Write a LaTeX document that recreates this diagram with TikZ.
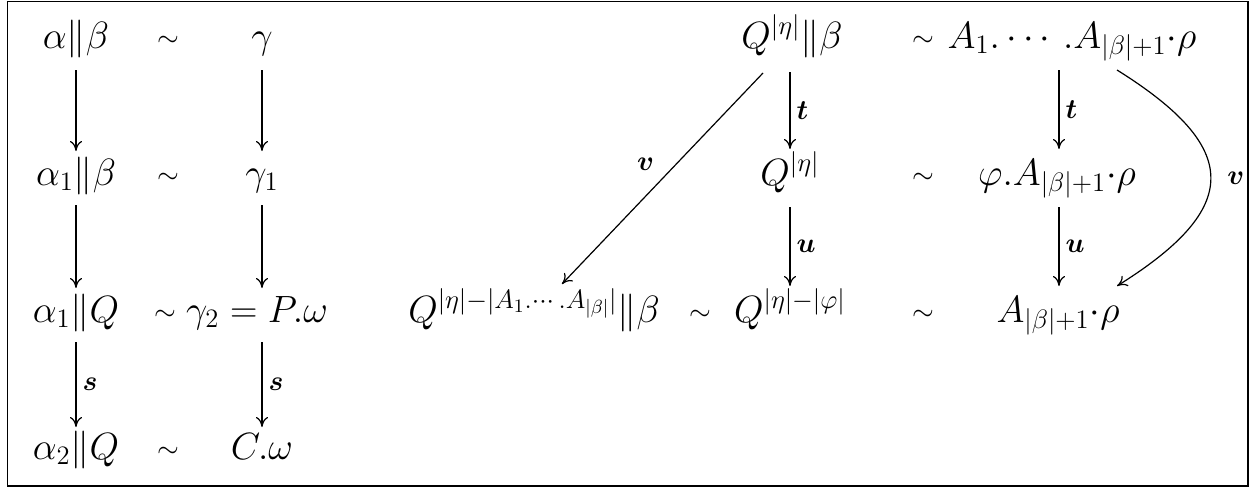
\documentclass[tikz,border=0pt]{standalone}
\usepackage{fix-cm}
\usepackage{amsmath}
\usetikzlibrary{arrows.meta}

\tikzset{
  cell/.style={anchor=base, inner sep=0pt, font=\fontsize{19}{23}\selectfont},
  simcell/.style={anchor=base, inner sep=0pt, font=\fontsize{14}{17}\selectfont},
  lbl/.style={right, inner sep=3pt, font=\fontsize{14}{17}\selectfont\boldmath},
  step arrow/.style={-{To[length=5pt, width=6pt]}, line width=0.6pt},
}

\begin{document}
\begin{tikzpicture}[x=0.5pt, y=-0.5pt]
        \useasboundingbox (0,0) rectangle (1254,488);
        % ramecek
        \draw[line width=0.75pt] (7.5,1.5) rectangle (1248,486);

        % levy sloupec
        \node[cell] (ab)  at (76,48)  {$\alpha\|\beta$};
        \node[cell] (a1b) at (76,185) {$\alpha_1\|\beta$};
        \node[cell] (a1q) at (76,322) {$\alpha_1\|Q$};
        \node[cell] (a2q) at (76,459) {$\alpha_2\|Q$};

        \node[simcell] (s1) at (168,46)  {$\sim$};
        \node[simcell] (s2) at (168,183) {$\sim$};
        \node[simcell] (s3) at (165,320) {$\sim$};
        \node[simcell] (s4) at (168,457) {$\sim$};

        \node[cell] (g)  at (262,48)  {$\gamma$};
        \node[cell] (g1) at (262,185) {$\gamma_1$};
        \node[cell] (g2) at (257,322) {$\gamma_2 = P.\omega$};
        \node[cell] (cw) at (262,459) {$C.\omega$};

        % sipky vlevo
        \draw[step arrow] ([yshift=-11pt]ab.base) -- ([yshift=17pt]a1b.base);
        \draw[step arrow] ([yshift=-10pt]a1b.base) -- ([yshift=17pt]a1q.base);
        \draw[step arrow] ([yshift=-10pt]a1q.base) -- ([yshift=16pt]a2q.base)
              node[lbl, midway] {$s$};
        \draw[step arrow] ([yshift=-11pt]g.base) -- ([yshift=17pt]g1.base);
        \draw[step arrow] ([yshift=-10pt]g1.base) -- ([yshift=17pt]g1.base |- g2.base);
        \draw[step arrow] ([yshift=-10pt]g1.base |- g2.base) -- ([yshift=16pt]cw.base)
              node[lbl, midway] {$s$};

        % prostredni sloupec
        \node[cell] (qb)  at (792,48)  {$Q^{|\eta|}\|\beta$};
        \node[cell] (q)   at (790,185) {$Q^{|\eta|}$};
        \node[cell] (qf)  at (790,322) {$Q^{|\eta|-|\varphi|}$};
        \node[cell] (qab) at (534,322) {$Q^{|\eta|-|A_1.\cdots.A_{|\beta|}|}\|\beta$};
        \node[simcell] (s5)  at (700,320) {$\sim$};

        \draw[step arrow] ([yshift=-12pt]q.base |- qb.base) -- ([yshift=18pt]q.base)
              node[lbl, midway] {$t$};
        \draw[step arrow] ([yshift=-11pt]q.base) -- ([yshift=18pt]qf.base)
              node[lbl, midway] {$u$};
        \draw[step arrow] ([xshift=-14.5pt, yshift=-12.5pt]qb.base)
              -- ([xshift=14pt, yshift=19pt]qab.base)
              node[lbl, pos=.5, left=1pt, yshift=7pt] {$v$};

        % pravy sloupec
        \node[simcell] (t1) at (923,46)  {$\sim$};
        \node[simcell] (t2) at (923,183) {$\sim$};
        \node[simcell] (t3) at (923,320) {$\sim$};

        \node[cell] (r1) at (1072,48)  {$A_1.\cdots.A_{|\beta|+1}{\cdot}\rho$};
        \node[cell] (r2) at (1057,185) {$\varphi.A_{|\beta|+1}{\cdot}\rho$};
        \node[cell] (r3) at (1058,322) {$A_{|\beta|+1}{\cdot}\rho$};
        \coordinate (rx) at (1059,185);

        \draw[step arrow] ([yshift=-11pt]rx |- r1.base) -- ([yshift=18pt]rx)
              node[lbl, midway] {$t$};
        \draw[step arrow] ([yshift=-11pt]rx) -- ([yshift=18pt]rx |- r3.base)
              node[lbl, midway] {$u$};
        \draw[step arrow] ([xshift=22.5pt, yshift=-11pt]r1.base)
              to[out=-32, in=32, looseness=1.75]
              node[lbl, midway, right=5pt] {$v$}
              ([xshift=29.5pt, yshift=18pt]r3.base);
\end{tikzpicture}
\end{document}
